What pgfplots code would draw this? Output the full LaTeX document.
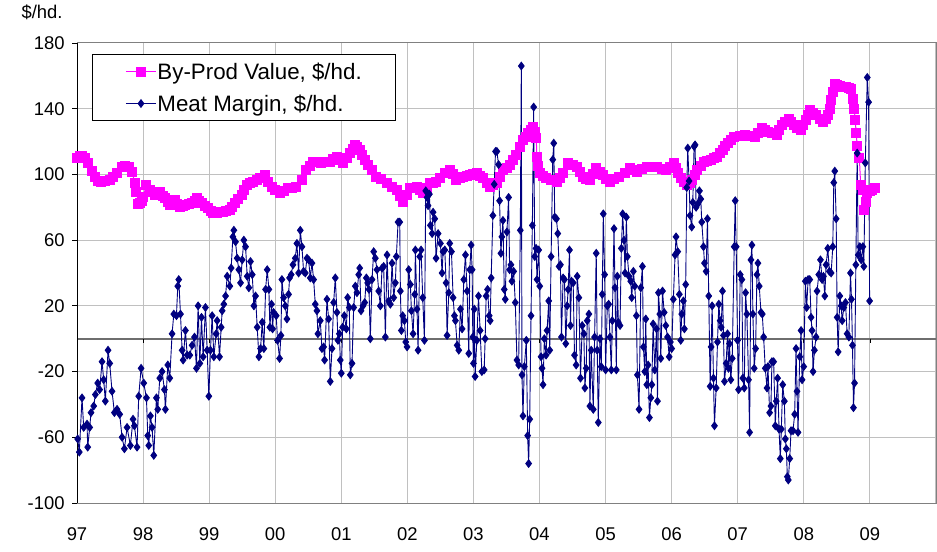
\documentclass[border=0pt]{standalone}
\usepackage{pgfplots}
\pgfplotsset{compat=1.18}
\usepackage{fontspec}
\setmainfont{Liberation Sans}
\definecolor{navy}{RGB}{0,0,128}
\definecolor{mag}{RGB}{255,0,255}
\definecolor{gridc}{RGB}{192,192,192}
\definecolor{zeroc}{RGB}{110,110,110}
\begin{document}
\begin{tikzpicture}
\useasboundingbox (0,0) rectangle (937bp,552bp);
\begin{axis}[
 at={(77bp,49bp)}, anchor=south west,
 width=859bp, height=460bp, scale only axis,
 xmin=1997, xmax=2010, ymin=-100, ymax=180,
 xtick={1997,...,2010},
 xticklabels={97,98,99,00,01,02,03,04,05,06,07,08,09,{}},
 ytick={-100,-60,...,180},
 grid=major, major grid style={gridc, line width=1bp},
 axis line style={draw=none},
 tick align=outside, ytick pos=left, xtick pos=bottom,
 xtick style={draw=none}, ytick style={black, line width=0.8bp},
 major tick length=5bp,
 tick label style={font=\fontsize{18.5}{21}\selectfont},
 /pgf/number format/assume math mode=true,
 xticklabel style={yshift=-16bp},
 yticklabel style={xshift=-4bp},
 clip=false,
 legend cell align=left,
 legend image code/.code={\draw[mark repeat=2,mark phase=2,#1] plot coordinates {(0bp,0bp) (15bp,0bp) (30bp,0bp)};},
 legend style={at={(rel axis cs:0.0186,0.9739)}, anchor=north west, draw=black, line width=1bp, fill=white,
   font=\fontsize{22.4}{25}\selectfont, inner xsep=32.5bp, inner ysep=5.5bp, outer sep=0pt, row sep=10bp,
   nodes={inner xsep=1bp, inner ysep=2bp}},
]
\draw[zeroc, line width=1.6bp] (axis cs:1997,0) -- (axis cs:2010,0);
\pgfplotsinvokeforeach{1998,...,2009}{\draw[black, line width=0.8bp] (axis cs:#1,0) -- ++(0bp,-4bp);}
\draw[gray, line width=1bp] (rel axis cs:0,0) rectangle (rel axis cs:1,1);
\draw[black, line width=1bp] (rel axis cs:0,0) -- (rel axis cs:0,1);

\addplot[color=mag, line width=1bp, mark=square*, mark size=4.5bp, mark options={fill=mag, draw=mag}] table {
1997.00 110
1997.04 111
1997.08 111
1997.12 110
1997.17 107
1997.22 102
1997.27 98.6
1997.32 96
1997.37 95.6
1997.43 96
1997.50 96.6
1997.55 98.5
1997.60 100.7
1997.68 104.7
1997.73 105
1997.78 104.7
1997.83 101.7
1997.88 94.6
1997.90 89.5
1997.93 82
1997.95 82.4
1997.98 84
1998.00 86.4
1998.05 93.5
1998.10 90.5
1998.14 89
1998.18 87.5
1998.22 89
1998.26 89.5
1998.30 87
1998.33 85.4
1998.37 83
1998.41 81.4
1998.45 83
1998.48 84.4
1998.52 82
1998.56 80.3
1998.60 80.5
1998.63 81.4
1998.69 82
1998.74 82.4
1998.78 84
1998.81 85.4
1998.85 84
1998.89 82.4
1998.94 80.5
1998.99 79.4
1999.03 77.5
1999.06 76.3
1999.12 76.5
1999.17 77
1999.21 77.3
1999.26 77.8
1999.31 78.3
1999.35 80
1999.39 82.4
1999.44 85
1999.49 87.5
1999.53 90.5
1999.57 93.5
1999.62 94.5
1999.67 95.6
1999.72 96.5
1999.77 97.6
1999.84 99.6
1999.89 95.6
1999.95 92.5
2000.00 90.5
2000.07 88.5
2000.13 90
2000.20 91.5
2000.26 92
2000.32 92.5
2000.40 96.6
2000.47 102.7
2000.52 105
2000.57 107.7
2000.63 107.3
2000.70 106.8
2000.77 107.3
2000.83 107.7
2000.88 109.5
2000.93 110.8
2000.98 109
2001.03 106.8
2001.08 110
2001.13 112.8
2001.17 115.5
2001.20 117.9
2001.24 116.5
2001.28 114.9
2001.32 112
2001.36 108.8
2001.41 105.5
2001.46 102.7
2001.53 98.6
2001.60 97
2001.69 94.6
2001.77 92.5
2001.84 90.5
2001.89 87
2001.94 83.4
2001.99 87.5
2002.04 91.5
2002.09 92
2002.14 92.5
2002.19 90.5
2002.24 88.5
2002.29 91.5
2002.34 94.6
2002.39 95
2002.44 95.6
2002.50 98
2002.57 100.7
2002.64 102.7
2002.69 100
2002.74 96.6
2002.79 97.6
2002.84 98.6
2002.90 99
2002.95 99.6
2003.00 100
2003.05 100.7
2003.10 99
2003.15 97.6
2003.20 95
2003.25 92.5
2003.30 93.5
2003.35 94.6
2003.40 98.5
2003.45 102.7
2003.50 104
2003.55 105.7
2003.60 108.5
2003.65 111.8
2003.70 116.5
2003.75 121
2003.79 123
2003.83 125
2003.87 127
2003.90 129
2003.93 126
2003.95 122
2003.96 110.8
2003.98 105
2004.00 100.7
2004.05 99
2004.10 97.6
2004.18 96.5
2004.26 95.6
2004.31 98
2004.36 100.7
2004.43 106.8
2004.50 105.5
2004.56 104.7
2004.61 101.5
2004.66 98.6
2004.71 97.5
2004.76 96.6
2004.81 100
2004.86 103.7
2004.91 101.5
2004.96 99.6
2005.01 97.5
2005.06 95.6
2005.13 97
2005.21 98.6
2005.29 101
2005.37 103.7
2005.42 102.5
2005.47 101.7
2005.55 103
2005.62 104.7
2005.70 104.7
2005.77 104.7
2005.85 103.5
2005.92 102.7
2005.98 104.5
2006.03 106.8
2006.06 104
2006.10 100.7
2006.14 98
2006.18 95.6
2006.23 93.5
2006.27 95
2006.31 96.6
2006.35 99.5
2006.39 102.7
2006.44 105
2006.49 107.7
2006.54 108.3
2006.59 108.8
2006.64 109.8
2006.69 110.8
2006.73 113
2006.77 114.9
2006.81 117
2006.85 118.9
2006.90 121
2006.95 123
2007.03 123.5
2007.11 124
2007.18 123.5
2007.26 123
2007.31 125.5
2007.36 128
2007.41 127
2007.46 126
2007.52 125
2007.59 124
2007.63 127
2007.67 130
2007.72 132
2007.77 134
2007.81 132
2007.85 130
2007.90 128.5
2007.95 127
2007.99 130
2008.03 133
2008.07 136
2008.10 139
2008.14 137.5
2008.18 136
2008.24 134
2008.29 132
2008.33 134
2008.36 136
2008.39 140
2008.41 145
2008.44 150
2008.47 155
2008.50 154.5
2008.54 154
2008.59 153.5
2008.64 153
2008.68 152.5
2008.72 152
2008.75 146
2008.76 140
2008.78 133
2008.79 125
2008.81 117
2008.84 110
2008.86 93.5
2008.89 90.5
2008.91 78.3
2008.94 83.4
2008.96 88.5
2009.00 90
2009.03 90.5
2009.07 91.5
};
\addlegendentry{By-Prod Value, \$/hd.}

\addplot[color=navy, line width=0.9bp, mark=diamond*, mark size=3.8bp, mark options={fill=navy, draw=navy}] table {
1997.01 -61
1997.035 -69
1997.076 -36
1997.101 -54
1997.152 -52
1997.162 -66
1997.192 -54
1997.212 -45
1997.253 -41
1997.278 -34
1997.313 -27
1997.343 -31
1997.379 -14
1997.404 -25
1997.429 -38
1997.470 -7
1997.495 -15
1997.530 -32
1997.566 -45
1997.606 -43
1997.646 -46
1997.682 -60
1997.717 -67
1997.758 -54
1997.808 -65
1997.848 -49
1997.869 -53
1997.909 -66
1997.934 -35
1997.970 -18
1998.010 -27
1998.051 -36
1998.071 -59
1998.086 -65
1998.111 -47
1998.136 -54
1998.162 -71
1998.202 -36
1998.222 -43
1998.253 -24
1998.288 -20
1998.323 -31
1998.338 -43
1998.374 -16
1998.404 -24
1998.439 3
1998.465 15
1998.505 14
1998.525 32
1998.540 36
1998.566 15
1998.591 -7
1998.606 -13
1998.641 5
1998.667 -10
1998.707 -10
1998.742 -4
1998.778 1
1998.808 -18
1998.833 20
1998.859 -15
1998.884 13
1998.909 -11
1998.944 19
1998.970 -7
1998.995 -35
1999.020 -7
1999.045 14
1999.071 -11
1999.106 3
1999.121 11
1999.157 -11
1999.182 7
1999.197 17
1999.222 21
1999.248 26
1999.273 38
1999.313 32
1999.333 43
1999.359 62
1999.374 66
1999.399 59
1999.424 49
1999.449 42
1999.475 34
1999.500 48
1999.525 60
1999.551 56
1999.576 38
1999.601 31
1999.626 47
1999.652 39
1999.677 20
1999.702 26
1999.727 7
1999.753 -11
1999.778 -6
1999.803 10
1999.828 -6
1999.854 30
1999.879 42
1999.904 30
1999.919 7
1999.944 21
1999.960 6
1999.975 16
2000.015 14
2000.035 -1
2000.066 -12
2000.086 2
2000.101 36
2000.126 25
2000.152 20
2000.177 12
2000.202 27
2000.217 37
2000.242 39
2000.268 45
2000.303 49
2000.328 58
2000.354 40
2000.379 66
2000.404 56
2000.429 41
2000.455 40
2000.480 49
2000.505 48
2000.530 37
2000.556 46
2000.581 36
2000.606 21
2000.631 17
2000.646 3
2000.682 11
2000.707 -6
2000.732 -5
2000.747 -13
2000.783 24
2000.808 12
2000.833 -26
2000.859 -6
2000.884 22
2000.909 37
2000.934 16
2000.949 -1
2000.970 3
2000.985 -13
2001.000 -21
2001.020 7
2001.045 14
2001.076 6
2001.096 25
2001.121 19
2001.136 -22
2001.162 -15
2001.187 19
2001.212 32
2001.237 28
2001.263 39
2001.278 43
2001.298 17
2001.328 20
2001.354 22
2001.379 37
2001.399 34
2001.419 30
2001.439 0
2001.465 36
2001.490 53
2001.515 49
2001.540 42
2001.566 29
2001.591 20
2001.616 43
2001.641 44
2001.667 1
2001.692 51
2001.717 23
2001.742 21
2001.768 46
2001.793 25
2001.818 34
2001.833 50
2001.859 71
2001.884 71
2001.894 29
2001.909 5
2001.929 14
2001.955 11
2001.975 -2
2001.995 -5
2002.020 42
2002.045 33
2002.061 17
2002.086 3
2002.111 27
2002.121 54
2002.146 18
2002.162 -7
2002.187 50
2002.207 54
2002.232 25
2002.258 -1
2002.278 90
2002.298 86
2002.313 81
2002.333 88
2002.348 69
2002.374 64
2002.389 77
2002.414 73
2002.434 49
2002.465 64
2002.500 58
2002.525 40
2002.540 53
2002.566 54
2002.586 34
2002.601 2
2002.626 28
2002.641 58
2002.667 53
2002.692 25
2002.712 14
2002.727 11
2002.753 -4
2002.778 -7
2002.803 18
2002.828 6
2002.854 36
2002.879 51
2002.904 29
2002.929 -9
2002.944 42
2002.965 57
2002.980 42
2002.990 1
2003.000 -15
2003.012 18
2003.025 -23
2003.051 -1
2003.076 26
2003.101 5
2003.127 -20
2003.162 -19
2003.177 0
2003.192 26
2003.213 30
2003.238 14
2003.253 11
2003.268 37
2003.294 75
2003.314 94
2003.334 114
2003.354 114
2003.380 106
2003.395 84
2003.415 52
2003.430 62
2003.446 72
2003.466 30
2003.481 24
2003.506 65
2003.532 86
2003.547 42
2003.567 45
2003.582 35
2003.608 41
2003.633 22
2003.658 -13
2003.684 -16
2003.709 66
2003.724 166
2003.734 -22
2003.749 -47
2003.770 -17
2003.800 -1
2003.820 -59
2003.835 -76
2003.851 -49
2003.871 14
2003.891 69
2003.911 141
2003.927 50
2003.947 55
2003.962 36
2003.987 54
2004.003 32
2004.023 -11
2004.038 -18
2004.053 -28
2004.073 0
2004.099 -10
2004.114 5
2004.139 23
2004.154 -7
2004.175 50
2004.200 109
2004.215 119
2004.230 74
2004.256 73
2004.276 64
2004.296 44
2004.316 45
2004.332 1
2004.357 37
2004.377 36
2004.397 -3
2004.418 20
2004.433 30
2004.453 54
2004.468 8
2004.484 35
2004.509 34
2004.529 -10
2004.554 -16
2004.570 38
2004.595 25
2004.620 -24
2004.646 8
2004.671 3
2004.686 -30
2004.706 -18
2004.722 11
2004.747 15
2004.762 -41
2004.782 -7
2004.813 -43
2004.833 1
2004.858 52
2004.873 -7
2004.889 -51
2004.914 0
2004.934 -17
2004.949 27
2004.965 76
2004.985 39
2005.000 -19
2005.025 20
2005.046 21
2005.066 1
2005.086 -19
2005.101 11
2005.127 67
2005.142 31
2005.162 -19
2005.177 38
2005.192 10
2005.218 8
2005.238 55
2005.258 76
2005.278 60
2005.294 40
2005.314 74
2005.329 50
2005.354 38
2005.380 35
2005.395 25
2005.420 41
2005.441 32
2005.466 14
2005.481 -22
2005.506 -43
2005.532 31
2005.557 44
2005.572 -5
2005.592 -20
2005.608 12
2005.623 -28
2005.643 -16
2005.663 -48
2005.684 -36
2005.699 -28
2005.719 9
2005.744 -19
2005.770 6
2005.785 -38
2005.800 28
2005.820 15
2005.835 -12
2005.861 29
2005.886 16
2005.911 8
2005.937 1
2005.962 -11
2005.980 -2
2006.000 -6
2006.025 24
2006.051 51
2006.066 62
2006.091 53
2006.116 27
2006.137 -1
2006.152 15
2006.177 23
2006.192 6
2006.212 33
2006.228 92
2006.243 116
2006.263 96
2006.278 75
2006.303 68
2006.319 83
2006.339 117
2006.354 118
2006.369 80
2006.395 82
2006.420 90
2006.440 85
2006.455 71
2006.481 56
2006.496 46
2006.521 41
2006.541 73
2006.561 26
2006.582 -29
2006.597 -5
2006.612 20
2006.632 -24
2006.647 -53
2006.673 -30
2006.693 -2
2006.713 21
2006.733 11
2006.749 7
2006.769 29
2006.784 2
2006.799 -26
2006.824 -15
2006.845 3
2006.860 -18
2006.875 -3
2006.895 -25
2006.916 -12
2006.946 56
2006.961 84
2006.976 56
2006.996 -1
2007.012 -31
2007.037 39
2007.062 36
2007.077 -24
2007.098 -30
2007.118 28
2007.138 15
2007.163 -25
2007.179 -57
2007.199 48
2007.214 57
2007.229 15
2007.249 -18
2007.270 -6
2007.290 39
2007.305 46
2007.325 32
2007.351 16
2007.371 15
2007.391 1
2007.416 -18
2007.442 -30
2007.457 -17
2007.482 -45
2007.502 -41
2007.517 -14
2007.543 -14
2007.568 -53
2007.583 -38
2007.603 -24
2007.624 -55
2007.644 -73
2007.659 -55
2007.680 -28
2007.705 -38
2007.720 -61
2007.735 -67
2007.750 -84
2007.765 -86
2007.786 -73
2007.806 -56
2007.836 -56
2007.861 -46
2007.882 -6
2007.897 -32
2007.912 -57
2007.937 -11
2007.958 5
2007.973 -25
2007.998 -17
2008.023 35
2008.043 19
2008.064 36
2008.089 36
2008.109 13
2008.124 5
2008.139 -20
2008.160 -7
2008.185 1
2008.200 29
2008.226 39
2008.251 48
2008.276 36
2008.296 38
2008.317 26
2008.337 45
2008.362 55
2008.387 41
2008.413 40
2008.438 56
2008.453 95
2008.468 102
2008.489 73
2008.504 13
2008.519 -8
2008.544 26
2008.564 20
2008.580 11
2008.605 19
2008.630 22
2008.655 3
2008.681 1
2008.706 40
2008.721 24
2008.736 -4
2008.751 -42
2008.767 -27
2008.787 45
2008.807 113
2008.822 51
2008.847 56
2008.868 48
2008.893 56
2008.908 44
2008.930 107
2008.960 159
2008.980 144
2008.995 23
};
\addlegendentry{Meat Margin, \$/hd.}
\end{axis}
\node[font=\fontsize{18.5}{21}\selectfont] at (42bp,540bp) {\$/hd.};
\end{tikzpicture}
\end{document}
